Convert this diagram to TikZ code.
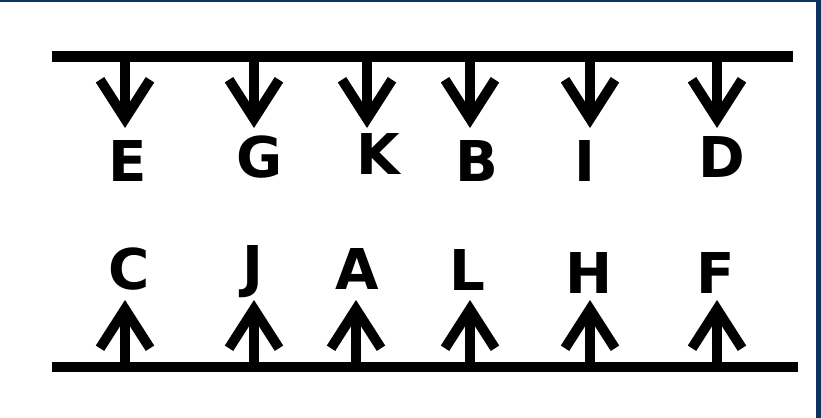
\documentclass[tikz,border=0pt]{standalone}
\usepackage{fontspec}
\setmainfont{DejaVu Sans}
\usetikzlibrary{arrows.meta}

\definecolor{framenavy}{HTML}{0F3361}

\tikzset{
  letter/.style={font=\fontsize{32}{32}\selectfont\bfseries, inner sep=0pt, anchor=base},
  bar/.style={line width=0.22cm},
  pointer/.style={line width=0.2cm, -{Straight Barb[length=0.78cm, width=1.0cm]}},
}

\begin{document}
\begin{tikzpicture}[x=0.02cm, y=-0.02cm]
  \useasboundingbox (0, 0) rectangle (821, 418);
  \fill[framenavy] (0, 0) rectangle (821, 2.5);
  \fill[framenavy] (816, 0) rectangle (821, 418);

  \coordinate (TL) at (52, 57);
  \coordinate (TR) at (793, 57);
  \coordinate (BL) at (52, 367);
  \coordinate (BR) at (798, 367);
  \coordinate (Ttip) at (0, 128);
  \coordinate (Btip) at (0, 300);

  \draw[bar] (TL) -- (TR);
  \draw[bar] (BL) -- (BR);

  % upper row
  \node[letter] (E) at (128, 182) {E};
  \node[letter] (G) at (260, 178) {G};
  \node[letter] (K) at (378, 175) {K};
  \node[letter] (B) at (477, 182) {B};
  \node[letter] (I) at (585, 182) {I};
  \node[letter] (D) at (722, 178) {D};

  \coordinate (tE) at (125, 57);
  \coordinate (tG) at (254, 57);
  \coordinate (tK) at (367, 57);
  \coordinate (tB) at (470, 57);
  \coordinate (tI) at (590, 57);
  \coordinate (tD) at (717, 57);

  \draw[pointer] (tE) -- (tE |- Ttip);
  \draw[pointer] (tG) -- (tG |- Ttip);
  \draw[pointer] (tK) -- (tK |- Ttip);
  \draw[pointer] (tB) -- (tB |- Ttip);
  \draw[pointer] (tI) -- (tI |- Ttip);
  \draw[pointer] (tD) -- (tD |- Ttip);

  % lower row
  \node[letter] (C) at (129, 290) {C};
  \node[letter] (J) at (253, 287) {J};
  \node[letter] (A) at (357, 290) {A};
  \node[letter] (L) at (467, 291) {L};
  \node[letter] (H) at (589, 294) {H};
  \node[letter] (F) at (716, 294) {F};

  \coordinate (bC) at (125, 367);
  \coordinate (bJ) at (254, 367);
  \coordinate (bA) at (356, 367);
  \coordinate (bL) at (470, 367);
  \coordinate (bH) at (590, 367);
  \coordinate (bF) at (717, 367);

  \draw[pointer] (bC) -- (bC |- Btip);
  \draw[pointer] (bJ) -- (bJ |- Btip);
  \draw[pointer] (bA) -- (bA |- Btip);
  \draw[pointer] (bL) -- (bL |- Btip);
  \draw[pointer] (bH) -- (bH |- Btip);
  \draw[pointer] (bF) -- (bF |- Btip);
\end{tikzpicture}
\end{document}
